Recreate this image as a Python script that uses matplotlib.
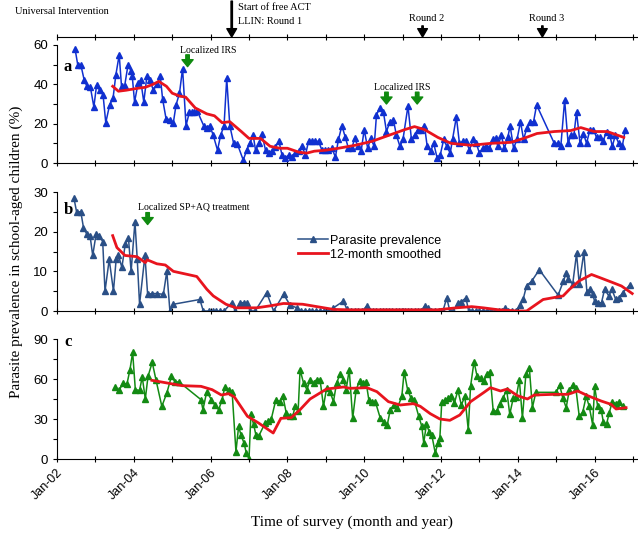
import numpy as np
import matplotlib.pyplot as plt
from matplotlib.lines import Line2D
from matplotlib.ticker import MultipleLocator

# Panel a - survey time (decimal year) and prevalence (%)
a_t = [2002.47, 2002.54, 2002.62, 2002.71, 2002.78, 2002.87, 2002.96, 2003.03, 2003.11, 2003.20,
       2003.27, 2003.37, 2003.46, 2003.53, 2003.62, 2003.68, 2003.76, 2003.85, 2003.92, 2003.96,
       2004.02, 2004.11, 2004.18, 2004.26, 2004.34, 2004.42, 2004.51, 2004.60, 2004.69, 2004.75,
       2004.84, 2004.93, 2005.03, 2005.10, 2005.19, 2005.27, 2005.36, 2005.45, 2005.52, 2005.58,
       2005.65, 2005.82, 2005.90, 2005.98, 2006.07, 2006.18, 2006.26, 2006.35, 2006.42, 2006.50,
       2006.60, 2006.70, 2006.85, 2006.94, 2007.02, 2007.11, 2007.17, 2007.26, 2007.34, 2007.43,
       2007.51, 2007.60, 2007.68, 2007.78, 2007.86, 2007.95, 2008.03, 2008.12, 2008.21, 2008.29,
       2008.38, 2008.47, 2008.55, 2008.64, 2008.72, 2008.81, 2008.90, 2008.99, 2009.07, 2009.16,
       2009.25, 2009.33, 2009.42, 2009.51, 2009.59, 2009.68, 2009.75, 2009.84, 2009.92, 2010.00,
       2010.09, 2010.17, 2010.26, 2010.32, 2010.41, 2010.50, 2010.58, 2010.67, 2010.76, 2010.84,
       2010.93, 2011.01, 2011.14, 2011.23, 2011.31, 2011.40, 2011.49, 2011.57, 2011.64, 2011.73,
       2011.81, 2011.90, 2011.98, 2012.07, 2012.15, 2012.24, 2012.30, 2012.40, 2012.48, 2012.57,
       2012.66, 2012.74, 2012.83, 2012.92, 2013.00, 2013.09, 2013.18, 2013.26, 2013.35, 2013.43,
       2013.48, 2013.57, 2013.65, 2013.74, 2013.80, 2013.89, 2013.98, 2014.07, 2014.15, 2014.24,
       2014.33, 2014.41, 2014.49, 2014.95, 2015.04, 2015.12, 2015.22, 2015.31, 2015.38, 2015.46,
       2015.53, 2015.62, 2015.71, 2015.79, 2015.88, 2015.97, 2016.05, 2016.14, 2016.22, 2016.31,
       2016.40, 2016.46, 2016.54, 2016.63, 2016.72, 2016.80]
a_v = [58, 50, 50, 42, 39, 38.5, 28.5, 39.5, 37, 34.5,
       20.5, 29.5, 33, 44.5, 55, 39, 39, 50, 47, 44,
       31, 40.5, 42, 31, 44, 42, 37, 40, 44, 32.5,
       22.5, 22, 20.5, 29.5, 35.5, 48, 19, 26, 26, 26,
       26.5, 19, 18, 19, 14, 6.5, 14, 19, 43, 19,
       10, 9.5, 1.5, 6.5, 10, 14, 6.5, 10, 14.5, 6.5,
       5, 6, 8, 11, 4, 2.5, 4, 3, 5, 6,
       8.5, 4, 11, 11, 11, 11, 6.5, 6.5, 6.5, 7.5,
       3, 12, 19, 13, 7.5, 7.5, 12.5, 8.5, 6, 17,
       7.5, 12.5, 8.5, 24.5, 28, 26, 16, 21, 22, 14,
       8.5, 12, 29, 12, 14, 17, 17, 19, 8.5, 6,
       10, 2.5, 4, 12, 8.5, 5, 12, 23.5, 10, 11,
       11, 6.5, 12, 10, 5, 7.5, 8.5, 7.5, 12, 12.5,
       8.5, 14, 7.5, 13, 19, 7.5, 12, 21, 12, 18,
       21, 21, 29.5, 10, 10, 8.5, 32, 10, 14, 14,
       26, 10, 15, 10, 17, 17, 13, 13, 11, 16,
       14, 8.5, 14, 10, 8.5, 17]
a_st = [2003.45, 2003.6, 2003.8, 2004.1, 2004.3, 2004.5, 2004.65, 2004.85, 2005.0, 2005.2,
        2005.35, 2005.6, 2005.9, 2006.1, 2006.3, 2006.5, 2006.8, 2007.0, 2007.3, 2007.55,
        2007.8, 2008.0, 2008.3, 2008.5, 2008.7, 2009.0, 2009.33, 2009.76, 2010.2, 2010.63,
        2011.06, 2011.31, 2011.57, 2011.92, 2012.26, 2012.78, 2013.3, 2013.82, 2014.15, 2014.5,
        2014.95, 2015.38, 2015.64, 2015.99, 2016.33, 2016.76]
a_sv = [39, 36.5, 37, 38, 38.5, 40, 41.5, 39, 35.5, 34,
        33.5, 28, 25, 24, 20.5, 21, 16, 12.5, 12.5, 8.5,
        7.5, 7.5, 5.5, 5, 6, 6.5, 7.5, 9, 11, 14,
        17, 18.5, 17, 13, 10, 9, 10, 10.5, 12.5, 15,
        16, 16.5, 18, 16, 16, 13]

# Panel b
b_t = [2002.44, 2002.51, 2002.62, 2002.69, 2002.77, 2002.86, 2002.93, 2003.02, 2003.10, 2003.19,
       2003.25, 2003.36, 2003.47, 2003.54, 2003.60, 2003.69, 2003.78, 2003.86, 2003.93, 2004.03,
       2004.09, 2004.15, 2004.29, 2004.36, 2004.48, 2004.60, 2004.77, 2004.86, 2004.94, 2005.03,
       2005.72, 2005.81, 2005.95, 2006.05, 2006.15, 2006.25, 2006.35, 2006.55, 2006.64, 2006.77,
       2006.86, 2006.94, 2007.03, 2007.16, 2007.46, 2007.64, 2007.90, 2008.07, 2008.24, 2008.35,
       2008.45, 2008.55, 2008.65, 2008.75, 2008.85, 2008.95, 2009.05, 2009.20, 2009.46, 2009.55,
       2009.65, 2009.75, 2009.85, 2009.95, 2010.07, 2010.15, 2010.23, 2010.32, 2010.40, 2010.48,
       2010.57, 2010.65, 2010.73, 2010.82, 2010.90, 2010.98, 2011.07, 2011.15, 2011.23, 2011.32,
       2011.40, 2011.48, 2011.58, 2011.66, 2011.75, 2011.85, 2011.95, 2012.05, 2012.15, 2012.23,
       2012.32, 2012.45, 2012.52, 2012.65, 2012.72, 2012.80, 2012.90, 2013.00, 2013.10, 2013.20,
       2013.30, 2013.40, 2013.50, 2013.58, 2013.67, 2013.75, 2013.85, 2013.95, 2014.06, 2014.14,
       2014.23, 2014.36, 2014.56, 2015.05, 2015.19, 2015.26, 2015.31, 2015.43, 2015.53, 2015.60,
       2015.72, 2015.80, 2015.88, 2015.95, 2016.00, 2016.10, 2016.18, 2016.26, 2016.37, 2016.45,
       2016.55, 2016.63, 2016.73, 2016.92]
b_v = [28.5, 25, 25, 21, 19.5, 19, 14, 19.5, 19, 17.5,
       5, 13, 5, 13, 14, 11, 17, 18.5, 10, 22.5,
       13, 1.7, 14, 4.2, 4.4, 4.4, 4.2, 10, 0, 1.7,
       2.9, 0, 0, 0, 0, 0, 0, 2.1, 0, 2.1,
       2.1, 2.1, 0, 0, 4.6, 0, 4.2, 1.5, 0.8, 0,
       0, 0, 0, 0, 0, 0, 0, 0.8, 2.5, 0.4,
       0, 0, 0, 0, 1.3, 0, 0, 0, 0, 0,
       0, 0, 0, 0, 0, 0, 0, 0, 0, 0,
       0, 0, 1.3, 0.8, 0, 0, 0, 0, 3.3, 0,
       0, 2.1, 2.3, 3.3, 0, 0, 0, 0, 0, 0,
       0, 0, 0, 0, 0.8, 0, 0, 0, 1.5, 3,
       6.4, 7.5, 10.4, 4, 7.6, 9.5, 8, 6.8, 14.5, 6.8,
       14.8, 4.7, 5.5, 4.2, 2.5, 2.1, 2.1, 5.5, 3.8, 5.5,
       2.9, 3.3, 4.6, 6.6]
b_st = [2003.45, 2003.56, 2003.77, 2004.08, 2004.3, 2004.35, 2004.6, 2004.82, 2005.03, 2005.64,
        2005.9, 2006.07, 2006.4, 2006.66, 2007.2, 2007.55, 2007.9, 2008.4, 2008.77, 2009.2,
        2009.6, 2010.0, 2011.0, 2011.9, 2012.4, 2012.8, 2013.1, 2013.5, 2014.0, 2014.23,
        2014.66, 2015.18, 2015.35, 2015.6, 2015.92, 2016.14, 2016.49, 2016.7, 2016.98]
b_sv = [19, 16, 14, 13.7, 12.2, 12.9, 11.9, 11.6, 10, 8.7,
        5.5, 3.8, 1.7, 0.8, 0.8, 1.3, 1.9, 1.7, 1.1, 0.4,
        0.3, 0.3, 0.3, 0.3, 0.8, 1.1, 0.8, 0.3, 0, 0,
        2.9, 3.8, 5.5, 7.6, 9.2, 8.4, 7.1, 6.3, 4.4]

# Panel c
c_t = [2003.51, 2003.62, 2003.72, 2003.82, 2003.90, 2003.97, 2004.04, 2004.15, 2004.22, 2004.30,
       2004.37, 2004.48, 2004.58, 2004.73, 2004.86, 2004.98, 2005.08, 2005.17, 2005.75, 2005.80,
       2005.90, 2006.02, 2006.11, 2006.21, 2006.30, 2006.37, 2006.47, 2006.56, 2006.66, 2006.73,
       2006.79, 2006.87, 2006.93, 2007.00, 2007.05, 2007.12, 2007.18, 2007.25, 2007.42, 2007.50,
       2007.58, 2007.70, 2007.80, 2007.88, 2007.97, 2008.07, 2008.14, 2008.20, 2008.28, 2008.33,
       2008.42, 2008.51, 2008.59, 2008.68, 2008.76, 2008.85, 2008.94, 2009.02, 2009.11, 2009.20,
       2009.28, 2009.37, 2009.46, 2009.53, 2009.61, 2009.70, 2009.79, 2009.88, 2009.96, 2010.05,
       2010.12, 2010.20, 2010.29, 2010.42, 2010.51, 2010.60, 2010.68, 2010.77, 2010.86, 2010.98,
       2011.04, 2011.13, 2011.22, 2011.30, 2011.42, 2011.50, 2011.55, 2011.62, 2011.70, 2011.76,
       2011.85, 2011.92, 2011.97, 2012.02, 2012.11, 2012.18, 2012.27, 2012.35, 2012.44, 2012.53,
       2012.62, 2012.71, 2012.77, 2012.86, 2012.94, 2013.03, 2013.12, 2013.19, 2013.27, 2013.36,
       2013.45, 2013.53, 2013.62, 2013.71, 2013.79, 2013.88, 2013.96, 2014.04, 2014.12, 2014.21,
       2014.30, 2014.38, 2014.47, 2015.00, 2015.09, 2015.17, 2015.26, 2015.34, 2015.43, 2015.51,
       2015.60, 2015.69, 2015.78, 2015.86, 2015.95, 2016.00, 2016.08, 2016.17, 2016.23, 2016.31,
       2016.38, 2016.46, 2016.55, 2016.63, 2016.73]
c_v = [54, 51.5, 57, 56, 67, 80, 52, 51.5, 61.5, 45,
       62, 72.5, 59, 39.5, 49.5, 62, 57.5, 58, 44.5, 37,
       50.5, 44.5, 40.5, 37, 44.5, 54, 52, 50.5, 5.5, 24.5,
       18, 12, 4.5, 0, 33.5, 26, 18, 17, 27, 28.5,
       30, 44.5, 43, 47.5, 34.5, 32, 32, 39.5, 36, 67,
       57, 52, 59.5, 57, 59.5, 59.5, 39.5, 53, 50.5, 43,
       57, 63.5, 59.5, 52, 67, 30.5, 52, 58.5, 57, 57.5,
       44.5, 43, 43, 30.5, 28, 25.5, 37, 40.5, 38, 47,
       65.5, 52, 45.5, 44.5, 32, 24.5, 12, 26, 20, 18,
       4.5, 12, 15.5, 43, 44, 45.5, 47, 42, 51.5, 40.5,
       47, 22, 54.5, 73, 62, 60.5, 58.5, 63.5, 65.5, 36,
       36, 41, 46, 52, 33.5, 45.5, 46.5, 59.5, 30.5, 63.5,
       68.5, 38.5, 50, 50, 55.5, 46, 38.5, 51.5, 55.5, 53.5,
       32, 35, 47, 39.5, 25.5, 54.5, 39.5, 37, 27.5, 26,
       34.5, 43, 41.5, 43, 39.5]
c_st = [2004.47, 2004.77, 2005.26, 2005.75, 2006.04, 2006.28, 2006.47, 2006.62, 2006.96, 2007.25,
        2007.63, 2007.83, 2008.1, 2008.33, 2008.59, 2009.02, 2009.46, 2009.63, 2010.07, 2010.33,
        2010.63, 2010.94, 2011.28, 2011.46, 2011.72, 2011.97, 2012.23, 2012.49, 2012.77, 2013.12,
        2013.29, 2013.55, 2013.73, 2013.99, 2014.25, 2014.43, 2014.95, 2015.3, 2015.56, 2015.82,
        2016.17, 2016.43, 2016.56, 2016.82]
c_sv = [59, 57.5, 55, 54.5, 52, 48, 49, 46.5, 32, 27,
        19.5, 30.5, 31, 37, 45, 52.5, 54, 53, 53.5, 50.5,
        43, 40.5, 41.5, 39.5, 34, 30, 29, 33, 43, 50,
        53.5, 51, 52.5, 47.5, 45, 48, 48.5, 48.5, 51, 47.5,
        43.5, 41, 37.5, 38.5]

years = list(range(2002, 2018))
label_years = list(range(2002, 2018, 2))
year_labels = ['Jan-%02d' % (y % 100) for y in label_years]

serif = 'Liberation Serif'
sans = 'Liberation Sans'
red = '#e8141e'

fig = plt.figure(figsize=(6.38, 5.33), dpi=100)
W, H = 638.0, 533.0
x0, x1 = 57, 637
xlim = (2002.0, 2002.0 + (x1 - x0) / 38.4)


def make_ax(top, bottom):
    ax = fig.add_axes([x0 / W, 1 - bottom / H, (x1 - x0) / W, (bottom - top) / H])
    ax.spines['top'].set_visible(False)
    ax.spines['right'].set_visible(False)
    ax.set_xlim(*xlim)
    ax.set_xticks(years)
    ax.tick_params(axis='x', which='both', direction='inout', length=5, width=0.8, labelbottom=False)
    ax.tick_params(axis='y', which='both', direction='out', width=0.8, length=3)
    for s in ax.spines.values():
        s.set_linewidth(0.8)
    return ax


panels = [
    (45, 163, a_t, a_v, a_st, a_sv, '#1030d0', 4.8, 60, 20, 10, 'a', 0.81),
    (192, 311, b_t, b_v, b_st, b_sv, '#2a4f86', 3.8, 30, 10, 5, 'b', 0.85),
    (339, 459, c_t, c_v, c_st, c_sv, '#138a13', 4.5, 90, 30, 15, 'c', 0.975),
]
axes = []
for top, bottom, t, v, st, sv, col, ms, ymax, maj, mnr, letter, ly in panels:
    ax = make_ax(top, bottom)
    ax.plot(t, v, color=col, lw=1.1, marker='^', ms=ms, mec=col, mfc=col, zorder=2)
    ax.plot(st, sv, color=red, lw=2.0, zorder=3)
    ax.set_ylim(0, ymax)
    ax.yaxis.set_minor_locator(MultipleLocator(mnr))
    ticks = np.arange(0, ymax + 1, maj)
    ax.set_yticks(ticks)
    ax.set_yticklabels([str(int(y)) for y in ticks], fontfamily=sans, fontsize=9.5)
    ax.text(0.012, ly, letter, transform=ax.transAxes, fontfamily=serif, fontweight='bold',
            fontsize=12, va='center', ha='left')
    axes.append(ax)

ax_a, ax_b, ax_c = axes
ax_c.set_xticks(label_years)
ax_c.set_xticks(years, minor=True)
ax_c.set_xticklabels(year_labels, rotation=45, ha='right', rotation_mode='anchor',
                     fontfamily=sans, fontsize=9)
ax_c.tick_params(axis='x', which='both', direction='inout', length=5, width=0.8,
                 labelbottom=True, pad=3)

# green arrows and notes
green = '#0f8a0f'
garrow = dict(facecolor=green, edgecolor=green, width=2.5, headwidth=8, headlength=5, shrink=0)
ax_a.annotate('', xy=(2005.4, 49), xytext=(2005.4, 55), arrowprops=garrow)
ax_a.text(2005.95, 57, 'Localized IRS', fontfamily=serif, fontsize=7, ha='center', va='center')
for xt in (2010.58, 2011.38):
    ax_a.annotate('', xy=(xt, 30), xytext=(xt, 36), arrowprops=garrow)
ax_a.text(2011.0, 38.5, 'Localized IRS', fontfamily=serif, fontsize=7, ha='center', va='center')
ax_b.annotate('', xy=(2004.36, 21.8), xytext=(2004.36, 24.8), arrowprops=garrow)
ax_b.text(2005.55, 26.3, 'Localized SP+AQ treatment', fontfamily=serif, fontsize=7,
          ha='center', va='center')

handles = [Line2D([0], [0], color='#2a4f86', lw=1.1, marker='^', ms=4),
           Line2D([0], [0], color=red, lw=2.0)]
ax_b.legend(handles, ['Parasite prevalence', '12-month smoothed'], loc='upper left',
            bbox_to_anchor=(0.415, 0.64), frameon=False, prop={'family': sans, 'size': 9},
            handlelength=2.4, handletextpad=0.2, labelspacing=0.15, borderaxespad=0, borderpad=0)

# top intervention line
ax_top = fig.add_axes([x0 / W, 1 - 37 / H, (x1 - x0) / W, 37 / H])
ax_top.set_xlim(*xlim)
ax_top.set_ylim(0, 1)
for s in ('left', 'right', 'top'):
    ax_top.spines[s].set_visible(False)
ax_top.spines['bottom'].set_linewidth(0.8)
ax_top.set_yticks([])
ax_top.set_xticks(years)
ax_top.tick_params(axis='x', direction='inout', length=5, width=0.8, labelbottom=False)
ax_top.patch.set_alpha(0)
karrow = dict(facecolor='black', edgecolor='black', width=1.0, headwidth=7, headlength=6, shrink=0)
ax_top.annotate('', xy=(2006.55, 0), xytext=(2006.55, 0.97), arrowprops=karrow)
ax_top.text(2006.72, 0.8, 'Start of free ACT', fontfamily=serif, fontsize=7.5, ha='left', va='center')
ax_top.text(2006.72, 0.41, 'LLIN: Round 1', fontfamily=serif, fontsize=7.5, ha='left', va='center')
for xt, lab in ((2011.52, 'Round 2'), (2014.64, 'Round 3')):
    ax_top.annotate('', xy=(xt, 0), xytext=(xt, 0.3), arrowprops=karrow)
    ax_top.text(xt + 0.1, 0.5, lab, fontfamily=serif, fontsize=7.5, ha='center', va='center')
fig.text(15 / W, 1 - 12 / H, 'Universal Intervention', fontfamily=serif, fontsize=7.5,
         ha='left', va='center')

fig.text(16 / W, 1 - 252 / H, 'Parasite prevalence in school-aged children (%)', rotation=90,
         fontfamily=serif, fontsize=11, ha='center', va='center')
fig.text(352 / W, 1 - 522 / H, 'Time of survey (month and year)', fontfamily=serif,
         fontsize=11, ha='center', va='center')

fig.savefig('out.png', dpi=100)
